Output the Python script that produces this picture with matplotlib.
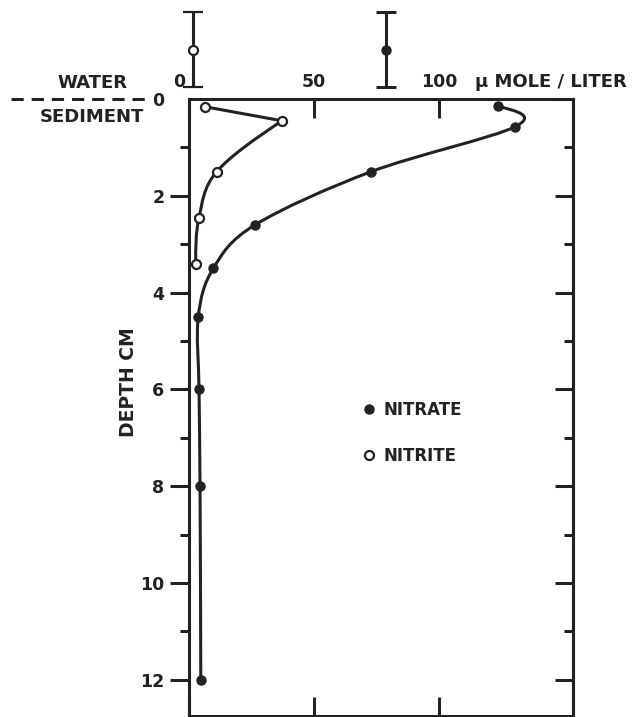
import numpy as np
import matplotlib
matplotlib.use("Agg")
import matplotlib.pyplot as plt
from matplotlib.path import Path
from matplotlib.patches import PathPatch
from matplotlib.lines import Line2D
from matplotlib.transforms import ScaledTranslation

# valores (umol/L vs profundidad en cm)
nitrite_conc = [6.6, 37.3, 11.3, 4.2, 2.9]
nitrite_depth = [0.16, 0.45, 1.5, 2.45, 3.4]
nitrate_conc = [123.5, 130.6, 73.0, 26.6, 9.9, 3.9, 4.2, 4.6, 4.9]
nitrate_depth = [0.15, 0.57, 1.5, 2.6, 3.5, 4.5, 6.0, 8.0, 12.0]

# agua sobre el sedimento
water_nitrite = 1.9
water_nitrate = 79.0

x_ticks = [0, 50, 100]
x_ticklabels = ["0", "50", "100"]
depth_major = [0, 2, 4, 6, 8, 10, 12]
depth_minor = [1, 3, 5, 7, 9, 11]

INK = "#222222"
LW = 2.2
WATER_BAR_Y = -1.02
WATER_BAR_HALF = 0.78


def smooth_path(x, y):
    """Curva suave que pasa por todos los puntos (Catmull-Rom, extremos naturales)."""
    pts = np.column_stack([x, y]).astype(float)
    n = len(pts)
    tang = np.zeros_like(pts)
    for i in range(1, n - 1):
        tang[i] = (pts[i + 1] - pts[i - 1]) / 2.0
    tang[0] = (3 * (pts[1] - pts[0]) - tang[1]) / 2.0
    tang[-1] = (3 * (pts[-1] - pts[-2]) - tang[-2]) / 2.0
    verts = [pts[0]]
    codes = [Path.MOVETO]
    for i in range(n - 1):
        verts += [pts[i] + tang[i] / 3.0, pts[i + 1] - tang[i + 1] / 3.0, pts[i + 1]]
        codes += [Path.CURVE4] * 3
    return Path(verts, codes)


plt.rcParams["font.family"] = ["DejaVu Sans"]
plt.rcParams["font.weight"] = "bold"
plt.rcParams["axes.labelweight"] = "bold"

fig = plt.figure(figsize=(6.41, 7.17), dpi=100)
ax = fig.add_axes([0.2941, 0.0014, 0.5998, 0.8605])

ax.set_xlim(0, 153.6)
ax.set_ylim(12.75, 0)

# nitrato
ax.add_patch(PathPatch(smooth_path(nitrate_conc, nitrate_depth), fill=False,
                       lw=LW, edgecolor=INK, transform=ax.transData, zorder=2))
ax.plot(nitrate_conc, nitrate_depth, "o", color=INK, ms=6.5, zorder=3)

# nitrito: primer tramo recto, luego curva
ax.plot(nitrite_conc[:2], nitrite_depth[:2], color=INK, lw=LW, zorder=2)
ax.add_patch(PathPatch(smooth_path(nitrite_conc[1:], nitrite_depth[1:]), fill=False,
                       lw=LW, edgecolor=INK, transform=ax.transData, zorder=2))
ax.plot(nitrite_conc, nitrite_depth, "o", mfc="white", mec=INK, mew=1.6, ms=6.5, zorder=3)

# barras del agua (encima del eje)
ax.errorbar([water_nitrite], [WATER_BAR_Y], yerr=WATER_BAR_HALF, fmt="o", mfc="white",
            mec=INK, mew=1.6, ms=6.5, ecolor=INK, elinewidth=LW, capsize=7, capthick=LW,
            color=INK, clip_on=False, zorder=4)
ax.errorbar([water_nitrate], [WATER_BAR_Y], yerr=WATER_BAR_HALF, fmt="o", color=INK,
            ms=6.5, ecolor=INK, elinewidth=LW, capsize=7, capthick=LW,
            clip_on=False, zorder=4)

# linea agua / sedimento
ax.plot([-0.461, -0.096], [0, 0], transform=ax.get_yaxis_transform(), color=INK,
        lw=LW, dashes=(4, 2.6), clip_on=False)
ax.text(-0.251, 1.026, "WATER", transform=ax.transAxes, ha="center", va="center",
        fontsize=13, color=INK)
ax.text(-0.251, 0.971, "SEDIMENT", transform=ax.transAxes, ha="center", va="center",
        fontsize=13, color=INK)

# ejes
for s in ax.spines.values():
    s.set_linewidth(LW)
    s.set_color(INK)

ax.set_xticks(x_ticks)
ax.set_xticklabels(x_ticklabels)
ax.tick_params(axis="x", which="major", direction="in", top=True, bottom=True,
               labeltop=True, labelbottom=False, length=13.5, width=LW, pad=5.5,
               labelsize=12.5, colors=INK)
# el "0" de arriba queda un poco a la izquierda
zero_lbl = ax.xaxis.get_major_ticks()[0].label2
zero_lbl.set_transform(zero_lbl.get_transform() + ScaledTranslation(-0.09, 0, fig.dpi_scale_trans))

ax.set_yticks(depth_major)
ax.set_yticks(depth_minor, minor=True)
ax.tick_params(axis="y", which="major", direction="out", left=True, right=False,
               length=13.7, width=LW, pad=3.6, labelsize=12.5, colors=INK)
ax.tick_params(axis="y", which="minor", direction="out", left=True, right=False,
               length=6.5, width=LW, colors=INK)
ax.yaxis.get_major_ticks()[0].tick1line.set_visible(False)

sec = ax.secondary_yaxis("right")
sec.set_yticks(depth_major)
sec.set_yticks(depth_minor, minor=True)
sec.tick_params(axis="y", which="major", direction="in", length=13, width=LW,
                labelright=False, colors=INK)
sec.tick_params(axis="y", which="minor", direction="in", length=6.5, width=LW, colors=INK)
sec.spines["right"].set_linewidth(LW)
sec.spines["right"].set_color(INK)

ax.set_ylabel("DEPTH CM", fontsize=13.5, color=INK, va="center")
ax.yaxis.set_label_coords(-0.157, 0.541)

ax.xaxis.set_label_position("top")
ax.set_xlabel("μ MOLE / LITER", fontsize=13, color=INK, ha="left", va="center")
ax.xaxis.set_label_coords(0.745, 1.0276)

handles = [
    Line2D([], [], ls="none", marker="o", color=INK, ms=6.5),
    Line2D([], [], ls="none", marker="o", mfc="white", mec=INK, mew=1.6, ms=6.5),
]
ax.legend(handles, ["NITRATE", "NITRITE"], frameon=False, loc="upper left",
          bbox_to_anchor=(0.43, 0.524), handlelength=0.8, handletextpad=0.5,
          labelspacing=1.65, borderpad=0, prop={"size": 12, "weight": "bold"},
          labelcolor=INK)

fig.savefig("out.png", dpi=100)
